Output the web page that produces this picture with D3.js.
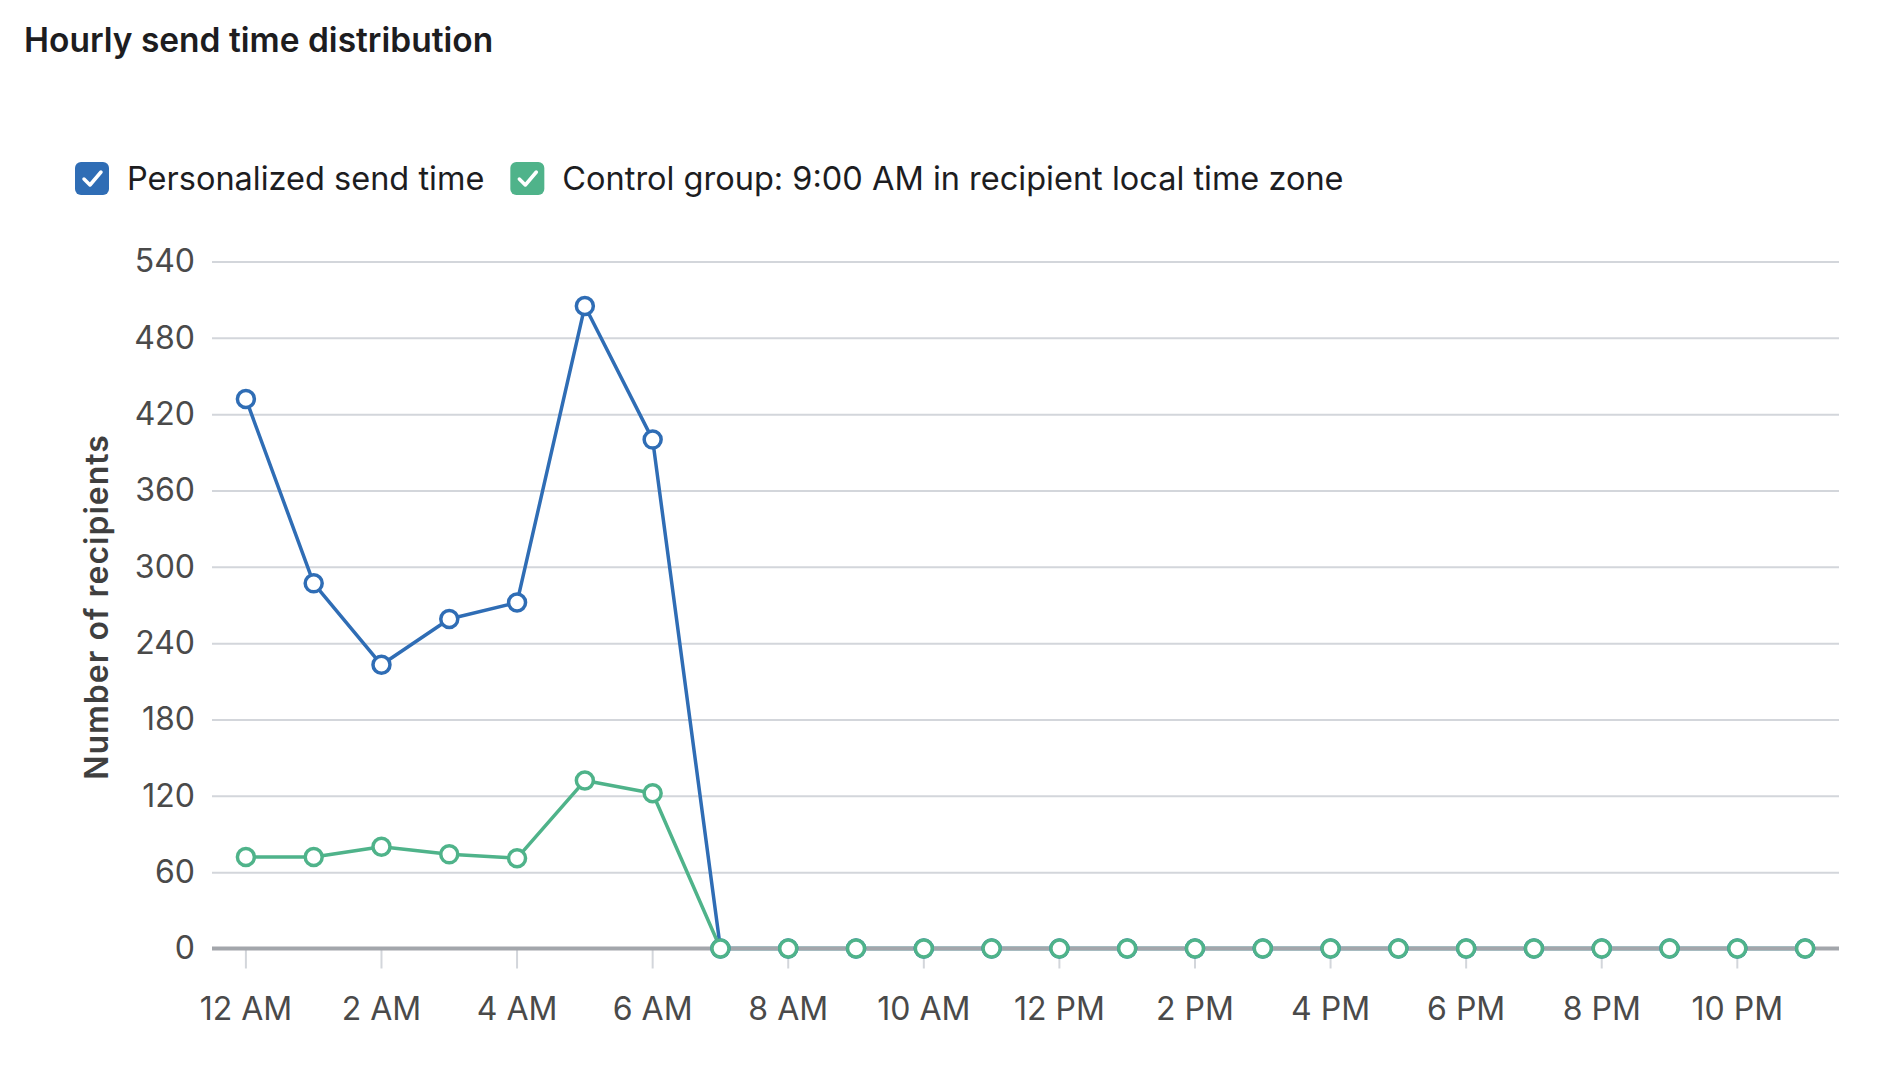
<!DOCTYPE html>
<html>
<head>
<meta charset="utf-8">
<script src="https://cdn.jsdelivr.net/npm/d3@7"></script>
<style>
  body { margin: 0; background: #fff; }
  svg { display: block; font-family: Inter, Roboto, "Noto Sans", sans-serif; }
</style>
</head>
<body>
<div id="chart"><svg></svg></div>
<script>
var width = 1892;
var height = 1086;

// hours of the day, 0..23
var hours = ["12 AM","1 AM","2 AM","3 AM","4 AM","5 AM","6 AM","7 AM","8 AM","9 AM","10 AM","11 AM",
             "12 PM","1 PM","2 PM","3 PM","4 PM","5 PM","6 PM","7 PM","8 PM","9 PM","10 PM","11 PM"];
var personalized = [432, 287, 223, 259, 272, 505, 400, 0, 0, 0, 0, 0, 0, 0, 0, 0, 0, 0, 0, 0, 0, 0, 0, 0];
var control = [72, 72, 80, 74, 71, 132, 122, 0, 0, 0, 0, 0, 0, 0, 0, 0, 0, 0, 0, 0, 0, 0, 0, 0];
var yTicks = [0, 60, 120, 180, 240, 300, 360, 420, 480, 540];
var seriesNames = ["Personalized send time", "Control group: 9:00 AM in recipient local time zone"];
var colors = ["#2f6db5", "#4fb38a"];

var plot = { left: 212, right: 1839, top: 261.5, bottom: 948.5 };

var svg = d3.select("#chart").select("svg")
    .attr("width", width)
    .attr("height", height);

// title
svg.append("text")
    .attr("x", 24)
    .attr("y", 52)
    .attr("font-size", 33.5)
    .attr("font-weight", 600)
    .attr("fill", "#1d1d1f")
    .text("Hourly send time distribution");

// legend
var lx = 75;
seriesNames.forEach(function(name, i) {
    var g = svg.append("g").attr("transform", "translate(" + lx + ",162)");
    g.append("rect")
        .attr("width", 34).attr("height", 33)
        .attr("rx", 6)
        .attr("fill", colors[i]);
    g.append("path")
        .attr("d", "M9,17 L15,23 L26,10")
        .attr("fill", "none")
        .attr("stroke", "#fff")
        .attr("stroke-width", 3.5)
        .attr("stroke-linecap", "round")
        .attr("stroke-linejoin", "round");
    var t = g.append("text")
        .attr("x", 52)
        .attr("y", 28)
        .attr("font-size", 32.5)
        .attr("fill", "#1d1d1f")
        .text(name);
    lx += 52 + t.node().getComputedTextLength() + 26;
});

var x = d3.scaleBand()
    .domain(d3.range(24))
    .range([plot.left, plot.right]);
var y = d3.scaleLinear()
    .domain([0, 540])
    .range([plot.bottom, plot.top]);

// gridlines + y labels
var yaxis = d3.axisLeft(y)
    .tickValues(yTicks)
    .tickSize(0)
    .tickPadding(17);
var gy = svg.append("g")
    .attr("transform", "translate(" + plot.left + ",0)")
    .call(yaxis);
gy.select(".domain").remove();
gy.selectAll(".tick text")
    .attr("font-size", 32)
    .attr("font-family", "Inter, Roboto, sans-serif")
    .attr("fill", "#4a4a4a");
gy.selectAll(".tick").append("line")
    .attr("x1", 0)
    .attr("x2", plot.right - plot.left)
    .attr("stroke", "#d3d6db")
    .attr("stroke-width", 2);

// y axis title
svg.append("text")
    .attr("transform", "translate(97,607) rotate(-90)")
    .attr("text-anchor", "middle")
    .attr("dy", "0.35em")
    .attr("font-size", 32)
    .attr("font-weight", 600)
    .attr("letter-spacing", 1)
    .attr("fill", "#3f3f3f")
    .text("Number of recipients");

// x axis ticks + labels, every 2 hours
var xaxis = d3.axisBottom(x)
    .tickValues(d3.range(0, 24, 2))
    .tickFormat(function(d) { return hours[d]; })
    .tickSize(20)
    .tickPadding(29);
var gx = svg.append("g")
    .attr("transform", "translate(0," + plot.bottom + ")")
    .call(xaxis);
gx.select(".domain").remove();
gx.selectAll(".tick line")
    .attr("stroke", "#d3d6db")
    .attr("stroke-width", 2);
gx.selectAll(".tick text")
    .attr("font-size", 32)
    .attr("font-family", "Inter, Roboto, sans-serif")
    .attr("fill", "#4a4a4a");

var line = d3.line()
    .x(function(d, i) { return x(i) + x.bandwidth() / 2; })
    .y(function(d) { return y(d); });

[personalized, control].forEach(function(series, si) {
    svg.append("path")
        .datum(series)
        .attr("d", line)
        .attr("fill", "none")
        .attr("stroke", colors[si])
        .attr("stroke-width", 3.5)
        .attr("stroke-linejoin", "round");
});

// zero line drawn over the series lines
svg.append("line")
    .attr("x1", plot.left).attr("x2", plot.right)
    .attr("y1", y(0)).attr("y2", y(0))
    .attr("stroke", "#a3a6ab")
    .attr("stroke-width", 4);

[personalized, control].forEach(function(series, si) {
    svg.append("g").selectAll("circle")
        .data(series)
        .enter().append("circle")
        .attr("cx", function(d, i) { return x(i) + x.bandwidth() / 2; })
        .attr("cy", function(d) { return y(d); })
        .attr("r", 8.5)
        .attr("fill", "#fff")
        .attr("stroke", colors[si])
        .attr("stroke-width", 3.5);
});
</script>
</body>
</html>
